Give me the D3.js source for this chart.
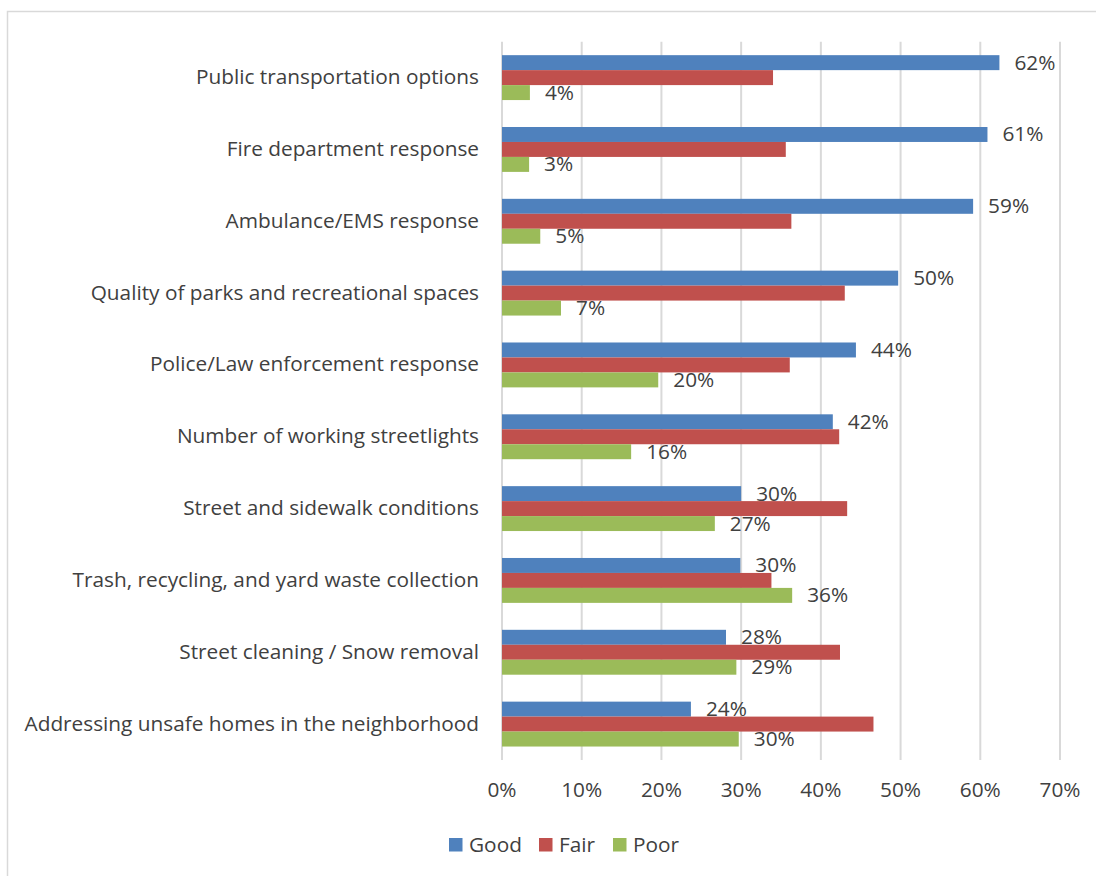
<!DOCTYPE html>
<html>
<head>
<meta charset="utf-8">
<script src="https://cdn.jsdelivr.net/npm/d3@7"></script>
<style>
  body { margin: 0; background: #fff; }
  svg text { font-family: "Open Sans", "Noto Sans", sans-serif; fill: #404040; }
</style>
</head>
<body>
<svg id="chart" width="1096" height="876"></svg>
<script>
// categories top to bottom
const categories = [
  "Public transportation options",
  "Fire department response",
  "Ambulance/EMS response",
  "Quality of parks and recreational spaces",
  "Police/Law enforcement response",
  "Number of working streetlights",
  "Street and sidewalk conditions",
  "Trash, recycling, and yard waste collection",
  "Street cleaning / Snow removal",
  "Addressing unsafe homes in the neighborhood"
];
const good = [62.4, 60.9, 59.1, 49.7, 44.4, 41.5, 30.0, 29.9, 28.1, 23.7];
const fair = [34.0, 35.6, 36.3, 43.0, 36.1, 42.3, 43.3, 33.8, 42.4, 46.6];
const poor = [3.5, 3.4, 4.8, 7.4, 19.6, 16.2, 26.7, 36.4, 29.4, 29.7];
const seriesNames = ["Good", "Fair", "Poor"];
const colors = ["#4F81BD", "#C0504D", "#9BBB59"];
const xTicks = [0, 10, 20, 30, 40, 50, 60, 70];

const svg = d3.select("#chart");
const fs = "20.8px";

// outer border
svg.append("rect")
  .attr("x", 7.5).attr("y", 11.5)
  .attr("width", 1100).attr("height", 880)
  .attr("fill", "none").attr("stroke", "#d9d9d9").attr("stroke-width", 1.5);

const plotLeft = 502, plotRight = 1060, plotTop = 41.7, plotBottom = 760;

let x = d3.scaleLinear().domain([0, 70]).range([plotLeft, plotRight]);
let y = d3.scaleBand().domain(categories).range([plotTop, plotBottom]).paddingInner(0.375).paddingOuter(0.1875);
let sub = d3.scaleBand().domain(seriesNames).range([0, y.bandwidth()]);

// gridlines
svg.append("g").selectAll("line")
  .data(xTicks)
  .join("line")
  .attr("x1", d => x(d)).attr("x2", d => x(d))
  .attr("y1", plotTop).attr("y2", plotBottom)
  .attr("stroke", "#d9d9d9").attr("stroke-width", 2);

// x tick labels
svg.append("g").selectAll("text")
  .data(xTicks)
  .join("text")
  .attr("x", d => x(d))
  .attr("y", 789)
  .attr("text-anchor", "middle")
  .attr("dominant-baseline", "central")
  .style("font-size", fs)
  .text(d => d + "%");

// category labels
svg.append("g").selectAll("text")
  .data(categories)
  .join("text")
  .attr("x", 479)
  .attr("y", d => y(d) + y.bandwidth() / 2 - 1.5)
  .attr("text-anchor", "end")
  .attr("dominant-baseline", "central")
  .style("font-size", fs)
  .text(d => d);

const allSeries = [good, fair, poor];
allSeries.forEach((vals, si) => {
  let g = svg.append("g");
  g.selectAll("rect")
    .data(vals)
    .join("rect")
    .attr("x", x(0))
    .attr("y", (d, i) => y(categories[i]) + sub(seriesNames[si]))
    .attr("width", d => x(d) - x(0))
    .attr("height", sub.bandwidth())
    .attr("fill", colors[si]);
  // labels only for Good and Poor
  if (si !== 1) {
    g.selectAll("text")
      .data(vals)
      .join("text")
      .attr("x", d => x(d) + 15)
      .attr("y", (d, i) => y(categories[i]) + sub(seriesNames[si]) + sub.bandwidth() / 2 - 1)
      .attr("dominant-baseline", "central")
      .style("font-size", fs)
      .text(d => Math.round(d) + "%");
  }
});

// legend
const legendX = [449, 539, 613];
const legend = svg.append("g");
seriesNames.forEach((n, i) => {
  legend.append("rect")
    .attr("x", legendX[i]).attr("y", 838)
    .attr("width", 13.5).attr("height", 13.5)
    .attr("fill", colors[i]);
  legend.append("text")
    .attr("x", legendX[i] + 20).attr("y", 844)
    .attr("dominant-baseline", "central")
    .style("font-size", fs)
    .text(n);
});
</script>
</body>
</html>
